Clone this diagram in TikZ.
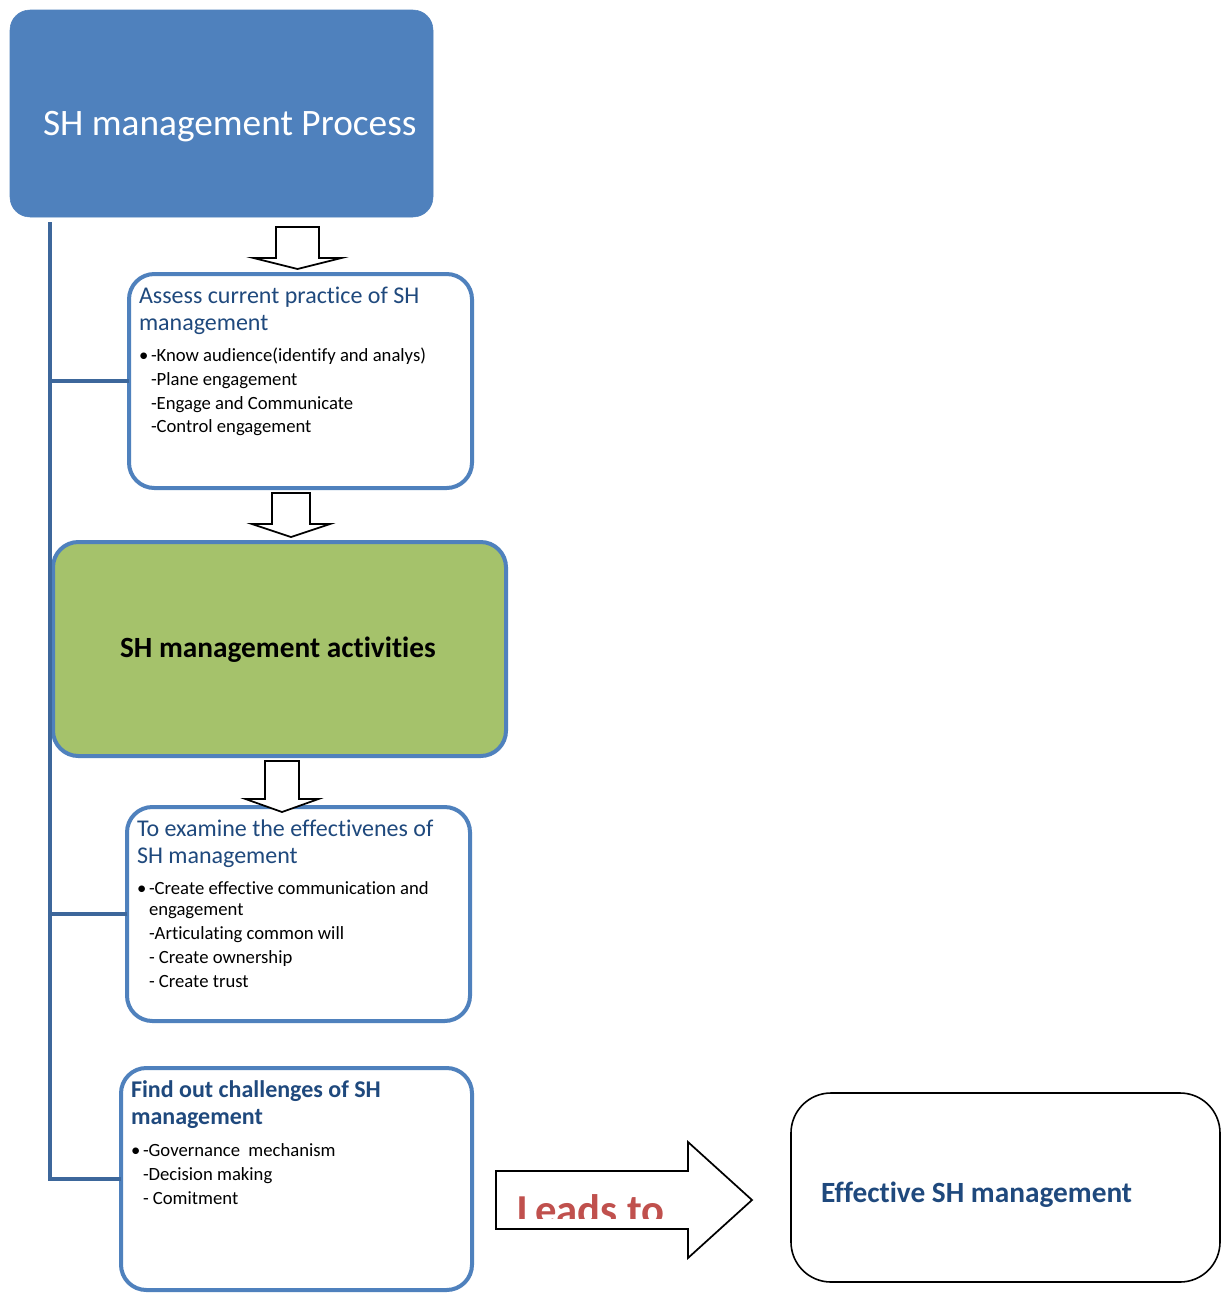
\documentclass[tikz,border=0pt]{standalone}
\usepackage{fontspec}
\setmainfont[RawFeature={-liga;-clig;-calt;-dlig}]{Carlito}
\definecolor{accblue}{HTML}{4F81BD}
\definecolor{trunkblue}{HTML}{3D679B}
\definecolor{titleblue}{HTML}{1F497D}
\definecolor{actgreen}{HTML}{A5C26B}
\definecolor{leadred}{HTML}{C0504D}
\tikzset{
  boxbase/.style={rectangle, inner sep=0pt, outer sep=0pt},
  topbox/.style={boxbase, fill=accblue, draw=accblue, rounded corners=15pt},
  stepbox/.style={boxbase, draw=accblue, line width=3pt, fill=white, rounded corners=19pt},
  greenbox/.style={boxbase, draw=accblue, line width=3pt, fill=actgreen, rounded corners=19pt},
  effbox/.style={boxbase, draw=black, line width=1.2pt, fill=white, rounded corners=30pt},
  trunk/.style={draw=trunkblue, line width=3pt},
  blk/.style={draw=black, line width=1.3pt, fill=white, line join=miter},
  txt/.style={anchor=base west, inner sep=0pt, outer sep=0pt},
  ttl/.style={txt, font=\fontsize{18pt}{20pt}\selectfont, text=titleblue},
  ttlb/.style={txt, font=\fontsize{18pt}{20pt}\selectfont\bfseries, text=titleblue},
  itm/.style={txt, font=\fontsize{14pt}{17pt}\selectfont, text=black},
}
\newcommand\dblk[6]{% cx, top, base, tip, stem half, head half
  \draw[blk] (#1-#5,#2) -- (#1+#5,#2) -- (#1+#5,#3) -- (#1+#6,#3) -- (#1,#4) -- (#1-#6,#3) -- (#1-#5,#3) -- cycle;}
\begin{document}
\begin{tikzpicture}[x=0.75pt,y=-0.75pt]
\useasboundingbox (0,0) rectangle (1229,1293);
\fill[white] (0,0) rectangle (1229,1293);

% boxes
\node[topbox, minimum width=317.25pt, minimum height=155.25pt] (top) at (221.5,113.5) {};
\node[stepbox, minimum width=257.25pt, minimum height=160.5pt] (b2) at (300.5,381) {};
\node[greenbox, minimum width=339.75pt, minimum height=160.5pt] (b3) at (279.5,649) {};
\node[stepbox, minimum width=257.25pt, minimum height=160.5pt] (b4) at (298.5,914) {};
\node[stepbox, minimum width=263.25pt, minimum height=166.5pt] (b5) at (296.5,1179) {};
\node[effbox, minimum width=321.75pt, minimum height=141.75pt] (eff) at (1005.5,1187.5) {};

% trunk connector
\coordinate (trunkTop) at (50,222);
\draw[trunk] (trunkTop) |- (b5.west);
\draw[trunk] (b2.west) -- (b2.west -| trunkTop);
\draw[trunk] (b4.west) -- (b4.west -| trunkTop);

% block arrows down
\dblk{297.5}{227}{258}{269}{21.5}{44}
\dblk{291}{493}{524}{537}{19}{39}
\dblk{282}{761}{799}{812}{17}{36.5}

% leads-to arrow
\draw[blk] (496,1171) -- (688,1171) -- (688,1142) -- (752,1200) -- (688,1258) -- (688,1229) -- (496,1229) -- cycle;
\begin{scope}
  \clip (498,1173) rectangle (686,1218);
  \node[txt, font=\fontsize{32pt}{36pt}\selectfont\bfseries, text=leadred] (lead) at (517,1224) {Leads to};
\end{scope}

% texts
\node[txt, font=\fontsize{28pt}{32pt}\selectfont, text=white] (ttop) at (43,135) {SH management Process};

\node[ttl] (t2a) at (139,303) {Assess current practice of SH};
\node[ttl] (t2b) at (139,330) {management};
\node[itm] (t2bul) at (139,361) {•};
\node[itm] (t2c) at (151,361) {-Know audience(identify and analys)};
\node[itm] (t2d) at (151,385) {-Plane engagement};
\node[itm] (t2e) at (151,409) {-Engage and Communicate};
\node[itm] (t2f) at (151,432) {-Control engagement};

\node[txt, font=\fontsize{22pt}{26pt}\selectfont\bfseries, text=black] (t3) at (120,657) {SH management activities};

\node[ttl] (t4a) at (137,836) {To examine the effectivenes of};
\node[ttl] (t4b) at (137,863) {SH management};
\node[itm] (t4bul) at (137,894) {•};
\node[itm] (t4c) at (149,894) {-Create effective communication and};
\node[itm] (t4d) at (149,915) {engagement};
\node[itm] (t4e) at (149,939) {-Articulating common will};
\node[itm] (t4f) at (149,963) {- Create ownership};
\node[itm] (t4g) at (149,987) {- Create trust};

\node[ttlb] (t5a) at (131,1097) {Find out challenges of SH};
\node[ttlb] (t5b) at (131,1124) {management};
\node[itm] (t5bul) at (131,1156) {•};
\node[itm] (t5c) at (143,1156) {-Governance\ \ mechanism};
\node[itm] (t5d) at (143,1180) {-Decision making};
\node[itm] (t5e) at (143,1204) {- Comitment};

\node[txt, font=\fontsize{22pt}{26pt}\selectfont\bfseries, text=titleblue] (teff) at (821,1202) {Effective SH management};
\end{tikzpicture}
\end{document}
